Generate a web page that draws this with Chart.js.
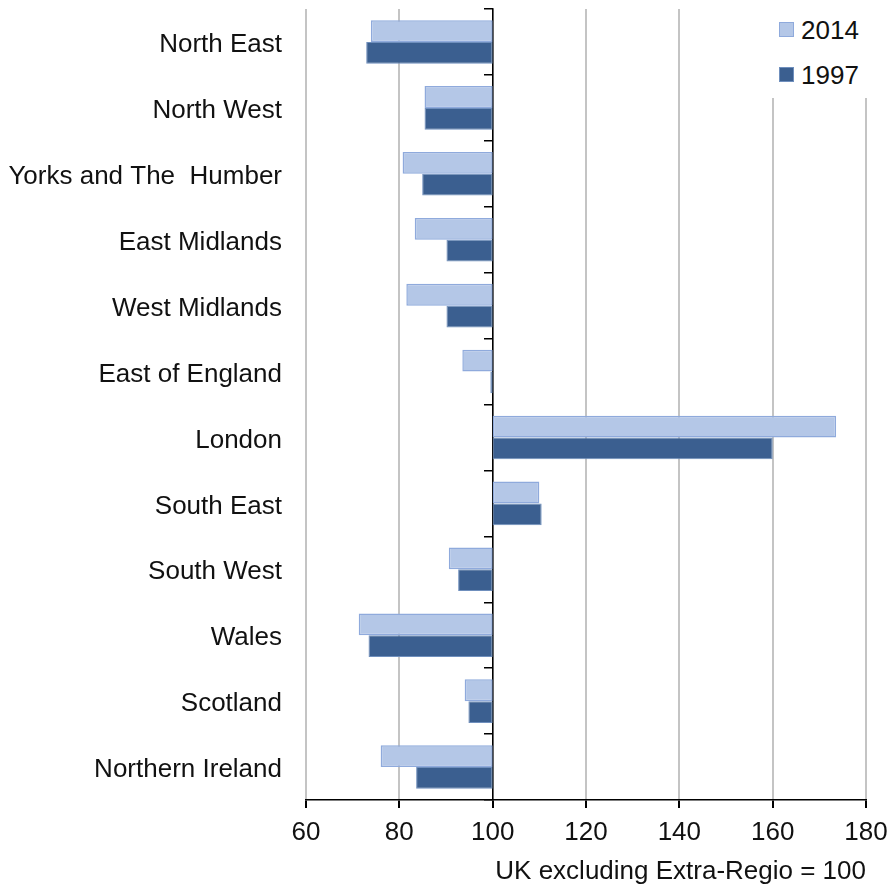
<!DOCTYPE html>
<html>
<head>
<meta charset="utf-8">
<script src="https://cdn.jsdelivr.net/npm/chart.js@4/dist/chart.umd.min.js"></script>
<style>
  html, body { margin: 0; padding: 0; background: #fff; }
  #wrap { position: relative; width: 887px; height: 887px; }
  #legend {
    position: absolute; left: 766px; top: 6px; width: 114px; height: 92px;
    background: #fff; font-family: 'Liberation Sans', Arial, sans-serif; font-size: 26px; color: #111;
  }
  .item { position: absolute; left: 13px; height: 30px; line-height: 30px; }
  .box { position: absolute; left: 0; top: 7px; width: 15px; height: 15px; box-sizing: border-box; }
  .txt { position: absolute; left: 22px; top: 0; }
</style>
</head>
<body>
<div id="wrap">
  <canvas id="chart" width="887" height="887"></canvas>
  <div id="legend"></div>
</div>
<script>
// regions, top to bottom
const regions = ['North East', 'North West', 'Yorks and The  Humber', 'East Midlands', 'West Midlands',
  'East of England', 'London', 'South East', 'South West', 'Wales', 'Scotland', 'Northern Ireland'];

// index, UK excluding Extra-Regio = 100
const values2014 = [73.9, 85.4, 80.7, 83.3, 81.5, 93.5, 173.6, 110.0, 90.6, 71.3, 94.0, 76.0];
const values1997 = [72.9, 85.4, 84.9, 90.1, 90.1, 99.5, 160.0, 110.5, 92.6, 73.4, 94.8, 83.6];

const baseline = 100;
const xTicks = [60, 80, 100, 120, 140, 160, 180];

const font = { family: "'Liberation Sans', Arial, sans-serif", size: 26 };
const textColor = '#111';

// bars float out from the 100 line
const fromBase = arr => arr.map(v => [baseline, v]);

// keep the axes from padding the plot area for half-labels
const noPad = scale => {
  scale.paddingTop = 0;
  scale.paddingBottom = 0;
};

const chart = new Chart(document.getElementById('chart'), {
  type: 'bar',
  data: {
    labels: regions,
    datasets: [
      {
        label: '2014',
        data: fromBase(values2014),
        backgroundColor: '#b4c7e7',
        borderColor: '#8faadc',
        borderWidth: 1.5,
        borderSkipped: false,
        categoryPercentage: 0.66,
        barPercentage: 1.0,
      },
      {
        label: '1997',
        data: fromBase(values1997),
        backgroundColor: '#3b5f90',
        borderColor: '#6f8fbd',
        borderWidth: 1,
        borderSkipped: false,
        categoryPercentage: 0.66,
        barPercentage: 1.0,
      },
    ],
  },
  options: {
    indexAxis: 'y',
    responsive: false,
    animation: false,
    layout: { padding: { top: 9, left: 0, right: 0, bottom: 0 } },
    scales: {
      x: {
        type: 'linear',
        min: 60,
        max: 180,
        afterBuildTicks: scale => { scale.ticks = xTicks.map(v => ({ value: v })); },
        afterFit: scale => { scale.paddingLeft = 0; scale.paddingRight = 21; scale.height = 87; },
        grid: { color: '#c4c4c4', lineWidth: 2, tickColor: '#000', tickLength: 8 },
        border: { display: true, color: '#000', width: 1.5 },
        ticks: { font: font, color: textColor, padding: 9 },
        title: {
          display: true,
          text: 'UK excluding Extra-Regio = 100',
          align: 'end',
          font: font,
          color: textColor,
          padding: { top: 7, bottom: 0 },
        },
      },
      y: {
        type: 'category',
        offset: true,
        afterFit: scale => { scale.width = 306; noPad(scale); },
        grid: { display: false, drawTicks: false },
        border: { display: false },
        ticks: { font: font, color: textColor, padding: 24, labelOffset: 3 },
      },
      // the category axis line drawn at x = 100
      y2: {
        type: 'category',
        axis: 'y',
        position: { x: baseline },
        offset: true,
        afterFit: noPad,
        grid: { offset: true, drawOnChartArea: false, tickLength: 8, tickColor: '#000', lineWidth: 1.5 },
        border: { display: true, color: '#000', width: 1.5 },
        ticks: { display: false },
      },
    },
    plugins: {
      legend: { display: false },
      tooltip: { enabled: false },
    },
  },
});

// html legend in the top right corner, built from the datasets
const legendEl = document.getElementById('legend');
chart.data.datasets.forEach((ds, i) => {
  const item = document.createElement('div');
  item.className = 'item';
  item.style.top = (9 + i * 45) + 'px';
  item.innerHTML = '<span class="box" style="background:' + ds.backgroundColor +
    ';border:1px solid ' + ds.borderColor + '"></span><span class="txt">' + ds.label + '</span>';
  legendEl.appendChild(item);
});
</script>
</body>
</html>
